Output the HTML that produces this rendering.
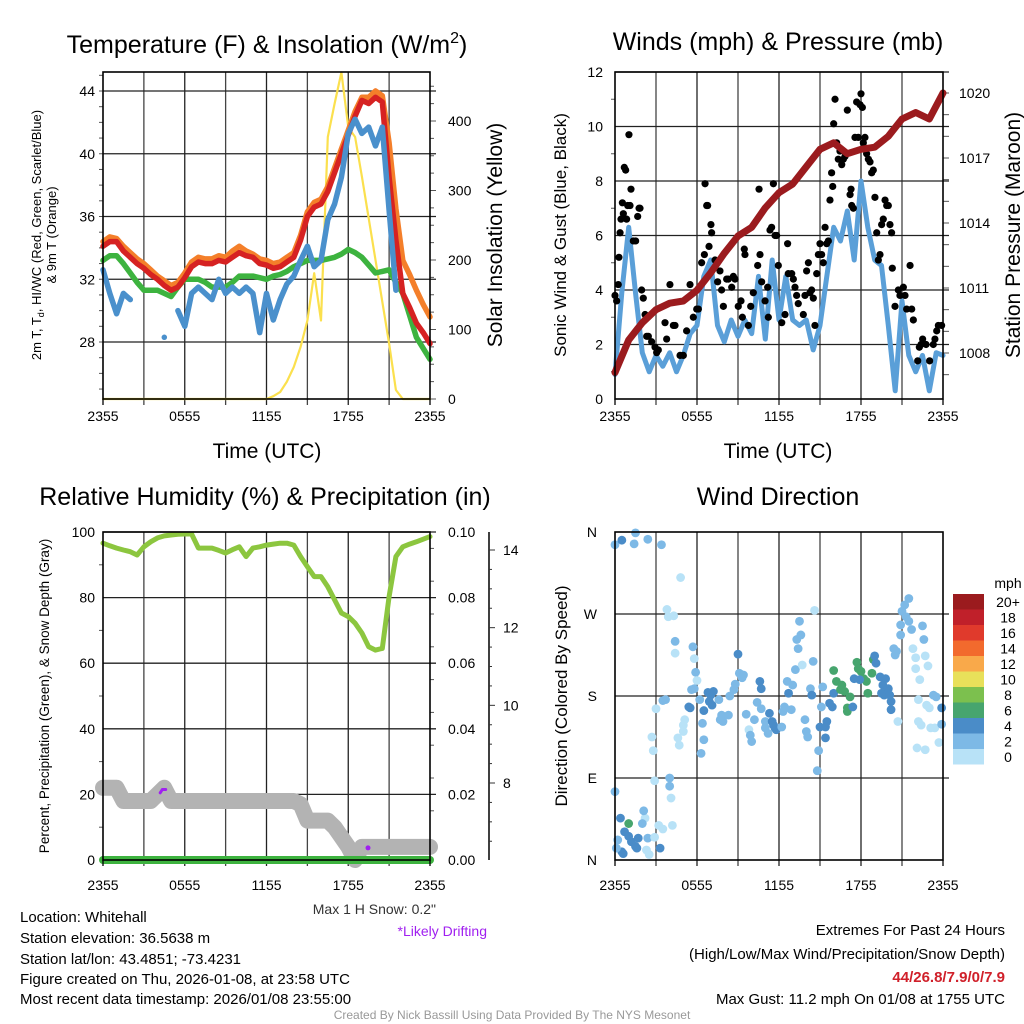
<!DOCTYPE html>
<html><head><meta charset="utf-8"><style>
html,body{margin:0;padding:0;background:#fff;}
svg{display:block;font-family:"Liberation Sans",sans-serif;}
</style></head><body>
<svg id="c" width="1024" height="1024" viewBox="0 0 1024 1024" xmlns="http://www.w3.org/2000/svg">
<g id="g"></g>
<!-- titles -->
<text x="267" y="53" font-size="25" text-anchor="middle">Temperature (F) &amp; Insolation (W/m<tspan dy="-10" font-size="16">2</tspan><tspan dy="10">)</tspan></text>
<text x="778" y="50" font-size="25" text-anchor="middle">Winds (mph) &amp; Pressure (mb)</text>
<text x="265" y="505" font-size="25" text-anchor="middle">Relative Humidity (%) &amp; Precipitation (in)</text>
<text x="778" y="505" font-size="25" text-anchor="middle">Wind Direction</text>
<!-- axis titles -->
<text x="267" y="458" font-size="21" text-anchor="middle">Time (UTC)</text>
<text x="778" y="458" font-size="21" text-anchor="middle">Time (UTC)</text>
<text transform="translate(41,235) rotate(-90)" font-size="13" text-anchor="middle">2m T, T<tspan font-size="9" dy="3">d</tspan><tspan dy="-3">, HI/WC (Red, Green, Scarlet/Blue)</tspan></text>
<text transform="translate(56,235) rotate(-90)" font-size="13" text-anchor="middle">&amp; 9m T (Orange)</text>
<text transform="translate(502,235) rotate(-90)" font-size="21" text-anchor="middle">Solar Insolation (Yellow)</text>
<text transform="translate(566,235) rotate(-90)" font-size="17" text-anchor="middle">Sonic Wind &amp; Gust (Blue, Black)</text>
<text transform="translate(1020,235) rotate(-90)" font-size="21" text-anchor="middle">Station Pressure (Maroon)</text>
<text transform="translate(49,696) rotate(-90)" font-size="13.5" text-anchor="middle">Percent, Precipitation (Green), &amp; Snow Depth (Gray)</text>
<text transform="translate(567,696) rotate(-90)" font-size="17" text-anchor="middle">Direction (Colored By Speed)</text>
<!-- legend -->
<text x="1008" y="588" font-size="14" text-anchor="middle">mph</text>
<!-- notes -->
<text x="436" y="914" font-size="14" fill="#333" text-anchor="end">Max 1 H Snow: 0.2"</text>
<text x="487" y="936" font-size="14" fill="#a020f0" text-anchor="end">*Likely Drifting</text>
<g font-size="15">
<text x="20" y="922">Location: Whitehall</text>
<text x="20" y="943">Station elevation: 36.5638 m</text>
<text x="20" y="964">Station lat/lon: 43.4851; -73.4231</text>
<text x="20" y="984">Figure created on Thu, 2026-01-08, at 23:58 UTC</text>
<text x="20" y="1004">Most recent data timestamp: 2026/01/08 23:55:00</text>
</g>
<g font-size="15" text-anchor="end">
<text x="1005" y="935">Extremes For Past 24 Hours</text>
<text x="1005" y="959">(High/Low/Max Wind/Precipitation/Snow Depth)</text>
<text x="1005" y="982" fill="#d0202a" font-weight="bold">44/26.8/7.9/0/7.9</text>
<text x="1005" y="1004">Max Gust: 11.2 mph On 01/08 at 1755 UTC</text>
</g>
<text x="512" y="1019" font-size="12" fill="#999" text-anchor="middle">Created By Nick Bassill Using Data Provided By The NYS Mesonet</text>
</svg>
<script>
// ---------- DATA ----------
const xTickLabels = ["2355","0555","1155","1755","2355"];
const tHalf = [0,0.5,1,1.5,2,2.5,3,3.5,4,4.5,5,5.5,6,6.5,7,7.5,8,8.5,9,9.5,10,10.5,11,11.5,12,12.5,13,13.5,14,14.5,15,15.5,16,16.5,17,17.5,18,18.5,19,19.5,20,20.5,21,21.5,22,22.5,23,23.5,24];
const tempRed = [34.1,34.4,34.4,33.8,33.4,33.0,32.7,32.3,32.0,31.6,31.3,31.5,32.1,32.8,33.1,33.0,33.0,33.2,33.1,33.4,33.7,33.5,33.4,33.0,32.9,32.7,32.8,33.1,33.4,34.5,36.0,36.6,36.8,37.6,38.8,40.0,41.2,42.4,43.4,43.2,43.6,43.3,38.5,34.5,31.1,30.2,29.2,28.6,27.9];
const tempOrange = [34.4,34.7,34.6,34.1,33.7,33.3,33.0,32.6,32.2,31.9,31.6,31.8,32.4,33.1,33.4,33.3,33.3,33.5,33.4,33.8,34.1,33.8,33.6,33.3,33.2,33.0,33.1,33.4,33.7,34.8,36.3,36.9,37.1,37.9,39.1,40.3,41.5,42.7,43.6,43.6,44.0,43.7,40.7,36.5,33.2,32.3,31.3,30.4,29.6];
const tempGreen = [33.2,33.5,33.5,33.0,32.4,31.8,31.3,31.3,31.3,31.1,30.9,31.5,32.0,32.0,32.0,31.8,31.5,31.5,31.5,31.8,32.2,32.2,32.2,32.1,32.0,32.2,32.3,32.5,32.8,33.0,33.2,33.2,33.2,33.3,33.4,33.6,33.9,33.7,33.4,32.9,32.4,32.5,32.6,31.8,31.1,29.7,28.3,27.6,26.9];
const tempBlue = [32.6,31.1,29.8,31.1,30.7,null,null,null,null,28.3,null,30.0,29.0,31.1,31.5,31.1,30.7,32.0,31.1,31.5,31.1,31.5,31.1,28.6,31.1,29.4,30.7,31.7,32.2,33.2,34.1,32.8,33.2,35.8,36.8,38.5,41.3,42.2,41.3,41.7,40.5,41.7,36.4,31.3,null,null,null,null,null];
const insolation = [0,0,0,0,0,0,0,0,0,0,0,0,0,0,0,0,0,0,0,0,0,0,0,0,0,4,10,25,46,75,113,181,113,377,425,470,391,377,320,260,200,140,80,13,0,0,0,0,0];
const windBlue = [0.9,3.9,6.3,3.9,1.7,1.0,1.6,1.2,1.7,1.0,1.6,2.4,2.7,4.5,5.1,2.7,2.1,2.9,2.3,2.9,2.4,4.5,2.2,5.1,2.9,4.5,2.9,2.7,2.9,1.8,2.7,4.5,6.3,5.8,6.9,5.1,8.0,6.3,5.1,4.9,2.7,0.3,3.6,1.6,1.0,1.6,0.3,1.7,1.6];
const tHour = [0,1,2,3,4,5,6,7,8,9,10,11,12,13,14,15,16,17,18,19,20,21,22,23,24];
const pressure = [1007.1,1008.6,1009.4,1010.0,1010.3,1010.4,1010.9,1011.7,1012.6,1013.4,1013.8,1014.7,1015.4,1015.8,1016.6,1017.4,1017.7,1017.2,1017.4,1017.5,1018.0,1018.8,1019.1,1018.8,1020.0];
const gustT = [0,0.12,0.24,0.29,0.37,0.44,0.54,0.61,0.68,0.78,0.85,0.93,1.02,1.1,1.17,1.34,1.51,1.66,1.76,1.83,1.95,2.07,2.2,2.32,2.44,2.68,2.93,3.05,3.17,3.66,3.78,4.02,4.27,4.39,4.76,5.0,5.24,5.49,5.73,5.98,6.1,6.34,6.54,6.59,6.71,6.78,6.88,7.02,7.07,7.32,7.51,7.68,7.8,7.93,8.17,8.29,8.54,8.66,8.78,9.02,9.22,9.32,9.51,9.46,9.76,9.93,10.12,10.44,10.54,10.61,10.73,10.98,11.17,11.22,11.34,11.46,11.59,11.71,11.83,11.95,12.2,12.44,12.63,12.68,12.93,13.05,13.17,13.29,13.41,13.78,13.9,14.02,14.15,14.27,14.39,14.51,14.63,14.76,14.88,15.0,15.12,15.24,15.37,15.49,15.61,15.73,15.85,15.93,16.0,16.1,16.22,16.34,16.46,16.59,16.71,16.83,17.0,17.2,17.27,17.32,17.44,17.56,17.68,17.8,17.93,18.0,18.1,18.17,18.29,18.41,18.54,18.66,18.78,18.9,19.02,19.15,19.27,19.39,19.51,19.63,19.76,19.88,20.0,20.12,20.24,20.29,20.49,20.73,20.85,21.1,21.22,21.34,21.59,21.71,21.83,22.15,22.27,22.39,22.51,22.76,23.02,23.29,23.41,23.54,23.66,23.9];
const gustV = [3.8,3.6,4.2,5.2,6.1,6.6,7.2,6.8,8.5,8.4,6.6,7.1,9.7,7.1,7.7,5.8,5.8,6.7,7.0,7.0,4.0,3.7,3.1,2.3,2.3,2.1,1.9,1.7,1.8,2.8,2.2,4.2,2.7,2.7,1.6,1.6,2.5,4.2,3.0,3.3,3.3,5.0,5.3,7.9,7.1,7.1,5.6,6.4,6.1,5.1,4.3,4.7,4.0,3.4,4.4,4.4,4.1,4.5,4.4,3.4,3.6,3.0,5.3,5.5,2.7,3.4,3.9,4.9,7.7,5.3,4.3,3.6,4.1,3.0,6.2,6.3,7.9,6.0,6.0,4.9,2.8,3.1,5.7,4.6,4.6,4.4,4.1,3.8,3.5,3.1,3.8,4.7,5.0,3.9,4.0,3.7,2.7,4.6,5.3,5.7,5.3,5.0,6.3,5.7,5.8,7.3,8.3,7.8,10.1,11.0,9.4,8.8,9.1,8.6,8.8,8.9,10.6,7.5,7.7,7.1,7.0,9.6,10.9,9.6,10.8,11.2,10.7,9.4,9.6,9.0,8.8,8.7,8.3,8.4,7.4,6.1,5.1,5.3,6.4,6.6,7.3,7.1,7.1,6.4,6.1,4.8,3.4,4.0,3.8,4.1,3.8,3.3,4.9,3.3,2.9,1.4,1.9,2.0,2.2,2.0,1.4,2.0,2.2,2.5,2.7,2.7];
const rhVals = [96.6,95.8,95.1,94.5,94.0,93.0,95.5,97.0,98.2,98.8,99.1,99.3,99.4,99.4,95.1,95.1,95.1,94.4,93.6,94.6,95.5,92.5,95.1,95.5,96.0,96.3,96.6,96.6,96.0,92.5,89.4,86.4,86.4,83.3,79.3,75.3,74.2,72.2,69.2,65.0,64.0,64.5,80.3,92.5,95.5,96.3,97.0,97.8,98.6];
const snowVals = [22,22,22,18,18,18,18,18,20,22,18,18,18,18,18,18,18,18,18,18,18,18,18,18,18,18,18,18,18,17,12,12,12,12,10,7,4,0,4,4,4,4,4,4,4,4,4,4,4];
const precipVals = [0,0,0,0,0,0,0,0,0,0,0,0,0,0,0,0,0,0,0,0,0,0,0,0,0,0,0,0,0,0,0,0,0,0,0,0,0,0,0,0,0,0,0,0,0,0,0,0,0];
const driftT = [4.2,4.35,4.6,19.45];
const driftV = [20.5,21.5,21.5,3.7];
const dirT = [0.0,0.5,1.4,1.5,2.4,3.4,4.8,3.8,3.9,4.3,4.4,4.4,5.7,5.8,5.9,6.0,5.8,5.6,3.7,3.5,3.0,5.1,5.0,5.0,4.6,4.7,2.7,2.8,2.9,4.0,4.0,4.1,0.0,0.4,1.0,0.7,1.0,1.2,1.5,1.7,1.6,0.2,0.5,0.6,0.1,2.2,2.1,2.0,2.4,2.9,3.3,2.5,2.3,3.2,3.5,4.2,5.4,5.5,6.2,6.5,6.8,7.0,6.9,7.2,7.1,6.4,6.3,6.5,7.6,7.8,7.9,7.7,8.3,8.4,8.7,8.8,9.0,9.1,9.4,9.3,9.6,9.8,9.9,10.0,10.2,10.4,10.6,10.7,10.7,11.0,11.0,11.2,11.3,11.5,11.6,11.7,11.8,12.2,12.3,12.4,12.6,12.7,12.9,13.0,13.2,13.4,13.3,13.5,13.6,13.7,13.9,14.0,14.1,14.3,14.4,14.5,14.6,14.8,14.9,15.0,15.1,15.2,15.4,15.4,15.5,15.7,15.9,16.0,16.0,16.2,16.5,16.6,16.8,17.0,17.0,17.2,17.4,17.5,17.7,17.8,18.0,18.2,18.4,18.5,17.9,18.8,18.9,19.0,19.1,19.4,19.6,19.8,19.9,20.0,19.5,19.7,20.1,20.2,20.2,20.7,20.5,20.4,20.6,20.9,20.9,21.0,21.2,21.5,21.3,21.5,21.7,22.5,22.6,21.8,22.0,22.0,22.3,22.7,22.9,22.2,22.8,23.0,23.3,23.5,23.9,22.2,22.4,23.1,23.4,23.9,23.7,22.1,22.7];
const dirV = [346,351,347,359,352,346,310,275,267,268,240,227,234,221,206,197,188,187,176,175,166,154,148,141,134,126,135,120,87,90,81,68,75,46,40,31,26,20,15,24,13,22,9,7,13,46,54,40,24,25,13,6,11,38,34,38,168,167,176,164,184,181,174,185,170,150,117,132,176,159,152,154,159,180,187,193,226,205,203,200,160,143,137,130,154,173,196,188,166,152,145,139,161,152,148,145,143,146,163,168,196,183,165,192,209,232,242,262,247,214,154,141,135,188,181,218,274,98,120,146,168,190,134,146,152,172,168,183,208,196,187,192,185,167,163,179,168,199,217,210,207,199,196,183,198,205,220,224,216,201,192,199,185,188,183,181,181,174,165,152,225,232,229,247,258,273,280,287,267,262,253,257,242,232,222,210,198,224,213,176,170,167,181,179,167,152,148,145,145,149,129,123,121];
const dirSpeed = [2,4,2,2,2,2,0,0,0,0,2,0,2,0,2,0,2,2,2,2,0,0,0,0,0,0,0,0,0,2,2,0,2,4,6,4,4,4,4,4,4,2,4,4,2,0,2,2,2,0,4,0,0,0,0,0,4,4,2,4,4,4,4,4,4,2,2,2,2,2,2,2,2,2,2,2,4,2,2,2,2,0,2,2,2,2,4,4,2,2,2,2,4,4,4,4,4,2,2,2,2,4,2,2,2,2,2,2,2,0,2,2,2,2,4,2,0,2,2,4,2,2,4,4,4,4,4,4,6,6,6,6,6,6,6,6,4,4,6,6,6,6,6,6,4,6,6,4,4,4,4,4,4,4,4,4,4,4,4,0,2,2,2,2,2,2,2,2,2,2,2,2,2,0,0,0,0,0,0,0,0,0,2,2,4,0,0,0,0,2,0,0,0];
const cbLabels = ["20+","18","16","14","12","10","8","6","4","2","0"];
const cbColors = ["#9b1b1e","#c0202a","#e03a2c","#f26a2d","#f9a94a","#e8e05a","#7cc04e","#47a56e","#4a8cc8","#7db9e6","#b8e2f7"];

// ---------- HELPERS ----------
const NS="http://www.w3.org/2000/svg";
const root=document.getElementById('g');
function el(tag,attrs,parent){const e=document.createElementNS(NS,tag);for(const k in attrs)e.setAttribute(k,attrs[k]);(parent||root).appendChild(e);return e;}
function lin(d0,d1,r0,r1){return v=>r0+(v-d0)*(r1-r0)/(d1-d0);}
function drawLine(xs,ys,sx,sy,stroke,w,name){
  let segs=[],cur=[];
  for(let i=0;i<xs.length;i++){if(ys[i]===null){if(cur.length)segs.push(cur);cur=[];}else cur.push(sx(xs[i]).toFixed(1)+','+sy(ys[i]).toFixed(1));}
  if(cur.length)segs.push(cur);
  segs.forEach(s=>{
    const p=el('polyline',{points:s.length===1?s[0]+' '+s[0]:s.join(' '),fill:'none',stroke:stroke,'stroke-width':w,'stroke-linejoin':'round','stroke-linecap':'round'});
    
    
  });
}
function grid(x0,x1,y0,y1,hys,name){
  const g=el('g',{});
  
  
  for(let i=1;i<8;i++){const x=x0+(x1-x0)*i/8;el('line',{x1:x,x2:x,y1:y0,y2:y1+6,stroke:i%2?'#444':'#222','stroke-width':1.3},g);}
  hys.forEach(y=>el('line',{x1:x0,x2:x1+6,y1:y,y2:y,stroke:'#222','stroke-width':1.3},g));
}
function frame(x0,x1,y0,y1,name){
  const r=el('rect',{x:x0,y:y0,width:x1-x0,height:y1-y0,fill:'none',stroke:'#000','stroke-width':1.6});
  
  
  [x0,x1].forEach(x=>el('line',{x1:x,x2:x,y1:y1,y2:y1+6,stroke:'#000','stroke-width':1.3}));
}
function xLabels(x0,x1,y,name){
  xTickLabels.forEach((s,i)=>{const t=el('text',{x:x0+(x1-x0)*i/4,y:y,'font-size':14,'text-anchor':'middle'});t.textContent=s;
    
    });
}
function txt(x,y,s,anchor,size,name){const t=el('text',{x:x,y:y,'font-size':size||14,'text-anchor':anchor});t.textContent=s;
  
  return t;}

// ---------- PANEL 1: Temperature ----------
{
 const x0=103,x1=430,y0=72,y1=399;
 const sx=lin(0,24,x0,x1), sy=lin(44,28,91,342), si=lin(0,400,399,121);
 const ticks=[44,40,36,32,28];
 grid(x0,x1,y0,y1,ticks.map(sy),'temp-gridlines');
 for(let v=25;v<=45;v++){const y=sy(v);if(y>y0&&y<y1)el('line',{x1:x0-4,x2:x0,y1:y,y2:y,stroke:'#555'});}
 for(let v=0;v<=450;v+=25){const y=si(v);if(y>=y0)el('line',{x1:x1,x2:x1+(v%100?4:6),y1:y,y2:y,stroke:'#555'});}
 ticks.forEach(v=>txt(x0-8,sy(v)+5,String(v),'end',14,'temp-y-tick'));
 [0,100,200,300,400].forEach(v=>txt(x1+18,si(v)+5,String(v),'start',14,'insolation-tick'));
 xLabels(x0,x1,421,'temp-x-tick');
 drawLine(tHalf,insolation,sx,si,'#fbe04e',2.2,'insolation-line');
 drawLine(tHalf,tempOrange,sx,sy,'#f47f2a',5.5,'temp-9m-line');
 drawLine(tHalf,tempGreen,sx,sy,'#3db33f',5.5,'dewpoint-line');
 drawLine(tHalf,tempRed,sx,sy,'#d62222',5.5,'temp-2m-line');
 drawLine(tHalf,tempBlue,sx,sy,'#4a90cc',5.5,'windchill-line');
 frame(x0,x1,y0,y1,'temp-plot-frame');
}
// ---------- PANEL 2: Winds ----------
{
 const x0=615,x1=943,y0=72,y1=399;
 const sx=lin(0,24,x0,x1), sy=lin(0,12,399,72), sp=lin(1008,1020,353,93);
 const ticks=[0,2,4,6,8,10,12];
 grid(x0,x1,y0,y1,ticks.slice(1).map(sy),'wind-gridlines');
 for(let v=1;v<12;v+=2)el('line',{x1:x0-4,x2:x0,y1:sy(v),y2:sy(v),stroke:'#555'});
 for(let v=1007;v<=1020;v++)el('line',{x1:x1,x2:x1+6,y1:sp(v),y2:sp(v),stroke:'#555'});
 ticks.forEach(v=>txt(x0-12,sy(v)+5,String(v),'end',14,'wind-y-tick'));
 [1008,1011,1014,1017,1020].forEach(v=>txt(x1+16,sp(v)+5,String(v),'start',14,'pressure-tick'));
 xLabels(x0,x1,421,'wind-x-tick');
 drawLine(tHalf,windBlue,sx,sy,'#5a9fd8',5,'sonic-wind-line');
 gustT.forEach((t,i)=>{const c=el('circle',{cx:sx(t),cy:sy(gustV[i]),r:3.6,fill:'#000'});
   
   });
 drawLine(tHour,pressure,sx,sp,'#9b1b1e',7,'pressure-line');
 frame(x0,x1,y0,y1,'wind-plot-frame');
}
// ---------- PANEL 3: RH ----------
{
 const x0=103,x1=430,y0=532,y1=860;
 const sx=lin(0,24,x0,x1), sy=lin(0,100,860,532), ss=lin(8,14,783,550);
 const ticks=[0,20,40,60,80,100];
 grid(x0,x1,y0,y1,ticks.slice(1).map(sy),'humidity-gridlines');
 for(let v=10;v<100;v+=20)el('line',{x1:x0-4,x2:x0,y1:sy(v),y2:sy(v),stroke:'#555'});
 for(let v=5;v<100;v+=10)el('line',{x1:x1,x2:x1+4,y1:sy(v),y2:sy(v),stroke:'#555'});
 ticks.forEach(v=>txt(x0-8,sy(v)+5,String(v),'end',14,'humidity-y-tick'));
 ["0.00","0.02","0.04","0.06","0.08","0.10"].forEach((s,i)=>txt(x1+18,sy(i*20)+5,s,'start',14,'precip-tick'));
 el('line',{x1:489,x2:489,y1:532,y2:860,stroke:'#000','stroke-width':1.5});
 for(let v=6.5;v<=14.5;v+=0.5){const y=ss(v);if(y>=532&&y<=860)el('line',{x1:489,x2:489+(v%2?3:6),y1:y,y2:y,stroke:'#333'});}
 [8,10,12,14].forEach(v=>txt(503,ss(v)+5,String(v),'start',14,'snow-depth-tick'));
 xLabels(x0,x1,890,'humidity-x-tick');
 drawLine(tHalf,snowVals,sx,sy,'#b3b3b3',16,'snow-depth-line');
 drawLine(tHalf,precipVals,sx,sy,'#3db33f',8,'precip-line');
 drawLine(tHalf,rhVals,sx,sy,'#8cc63f',5,'humidity-line');
 drawLine(driftT.slice(0,3),driftV.slice(0,3),sx,sy,'#a020f0',3,'drifting-mark');
 const d=el('circle',{cx:sx(driftT[3]),cy:sy(driftV[3]),r:2.5,fill:'#a020f0'});
 
 
 frame(x0,x1,y0,y1,'humidity-plot-frame');
}
// ---------- PANEL 4: Wind direction ----------
{
 const x0=615,x1=943,y0=532,y1=860;
 const sx=lin(0,24,x0,x1), sy=lin(0,360,860,532);
 grid(x0,x1,y0,y1,[90,180,270].map(sy),'direction-gridlines');
 ["N","E","S","W","N"].forEach((s,i)=>txt(x0-18,sy(i*90)+5,s,'end',14,'direction-tick'));
 xLabels(x0,x1,890,'direction-x-tick');
 const colorFor=s=>cbColors[10-Math.round(s/2)];
 dirT.forEach((t,i)=>{const c=el('circle',{cx:sx(t),cy:sy(dirV[i]),r:4.4,fill:colorFor(dirSpeed[i])});
   
   });
 frame(x0,x1,y0,y1,'direction-plot-frame');
 cbColors.forEach((c,i)=>{const r=el('rect',{x:953,y:594+i*15.5,width:31,height:15.5,fill:c});
   
   
   txt(1008,594+i*15.5+13,cbLabels[i],'middle',14,'colorbar-label');});
}
</script>
</body></html>
